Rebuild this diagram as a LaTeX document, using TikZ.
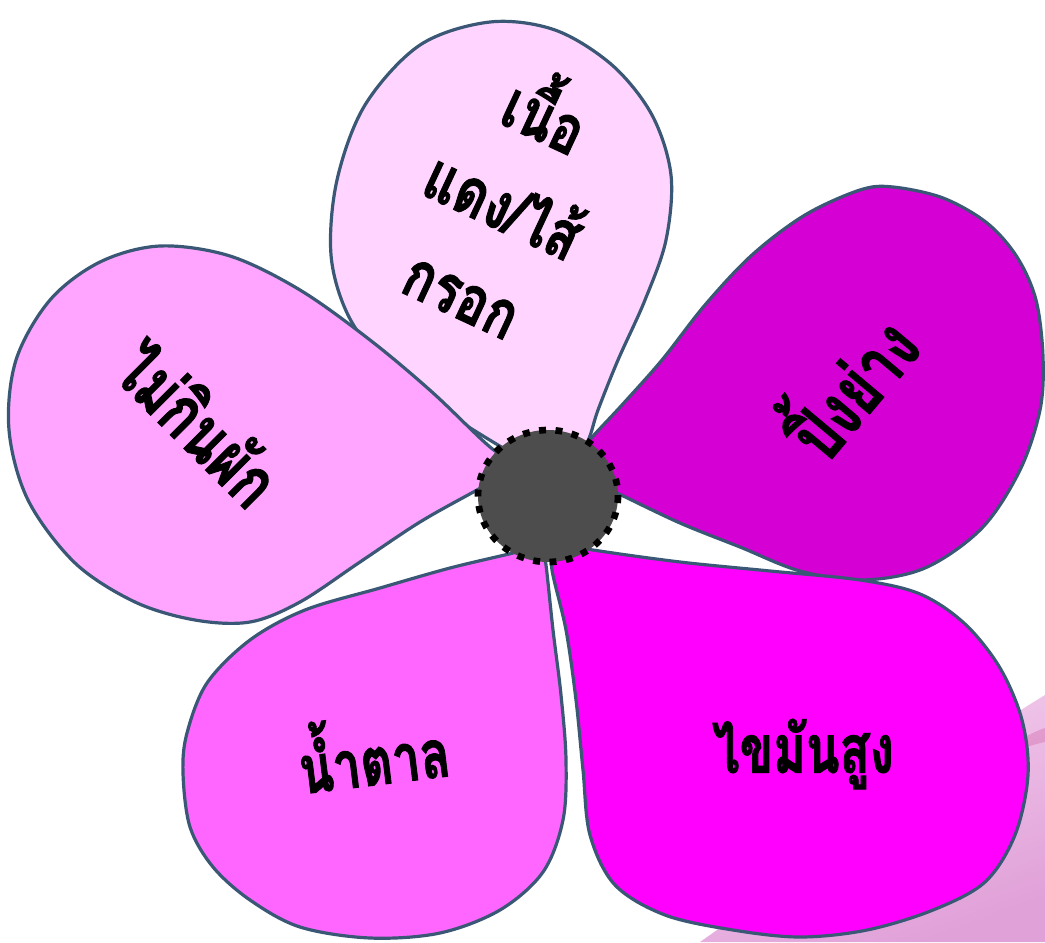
\documentclass[tikz,border=0pt]{standalone}
\usepackage{fontspec}
\newfontfamily\thaifont[Script=Thai, BoldFeatures={FakeBold=1.6}]{Loma}
\definecolor{pA}{HTML}{FFD5FF}
\definecolor{pB}{HTML}{D400D4}
\definecolor{pC}{HTML}{FF00FF}
\definecolor{pD}{HTML}{FF66FF}
\definecolor{pE}{HTML}{FFA5FF}
\definecolor{edgeblue}{HTML}{3A5876}
\definecolor{hub}{HTML}{4D4D4D}
\definecolor{bgpinkA}{HTML}{F4D0EE}
\definecolor{bgpinkB}{HTML}{E0A0D8}
\tikzset{
  petal/.style={draw=edgeblue, line width=2.4pt, line join=round},
  lbl/.style={font=\thaifont\bfseries\fontsize{50}{73}\selectfont, text=black, inner sep=0pt, align=center},
}
\begin{document}
\begin{tikzpicture}[x=0.75pt,y=-0.75pt]
\useasboundingbox (0,0) rectangle (1045,942);
% background decoration (bottom-right)
\shade[top color=bgpinkA, bottom color=bgpinkB, shading angle=20]
  (1045,695) .. controls (930,765) and (810,865) .. (700,942) -- (1045,942) -- cycle;
\fill[bgpinkB!80!purple, opacity=0.55] (1045,728) .. controls (1030,733) and (1010,745) .. (995,755) -- (995,760) .. controls (1012,752) and (1030,745) .. (1045,742) -- cycle;
% petal 1 (top)
\filldraw[petal, fill=pA] plot[smooth, tension=0.55] coordinates {
 (560,480) (498,445) (440,408) (385,365) (348,315) (331,255) (337,180) (365,105) (420,45) (490,22) (555,30) (612,65) (652,115) (671,175) (666,240) (645,300) (618,360) (598,410) (586,445) (560,480)} -- cycle;
% petal 2 (upper right)
\filldraw[petal, fill=pB] plot[smooth, tension=0.55] coordinates {
 (568,470) (587,443) (622,405) (662,360) (705,305) (752,255) (805,215) (860,190) (893,187) (943,198) (987,223) (1017,257) (1036,300) (1043,357) (1040,410) (1020,470) (982,528) (925,568) (862,580) (800,571) (740,547) (680,523) (617,493) (568,470)} -- cycle;
% petal 3 (lower right)
\filldraw[petal, fill=pC] plot[smooth, tension=0.55] coordinates {
 (552,542) (593,550) (680,562) (770,571) (860,580) (920,594) (965,624) (1000,668) (1022,720) (1028,775) (1015,835) (985,882) (933,910) (867,930) (800,937) (733,930) (665,915) (615,885) (590,835) (583,770) (576,700) (566,630) (552,570) (552,542)} -- cycle;
% petal 4 (lower left)
\filldraw[petal, fill=pD] plot[smooth, tension=0.55] coordinates {
 (542,545) (513,553) (450,568) (380,588) (305,610) (250,640) (207,683) (187,733) (183,773) (190,827) (213,867) (250,900) (300,927) (370,938) (440,933) (500,910) (543,872) (563,820) (566,760) (561,695) (553,630) (546,565) (542,545)} -- cycle;
% petal 5 (left)
\filldraw[petal, fill=pE] plot[smooth, tension=0.55] coordinates {
 (520,466) (477,490) (420,522) (360,562) (300,602) (250,622) (195,620) (135,602) (75,563) (28,500) (9,430) (16,360) (50,300) (100,262) (160,246) (230,256) (300,290) (370,340) (432,392) (490,447) (520,466)} -- cycle;
% hub
\fill[hub] (548,496) ellipse[x radius=70, y radius=66];
\draw[black, line width=5pt, dash pattern=on 5.2pt off 7.1pt] (548,496) ellipse[x radius=70, y radius=66];
% labels
\node[lbl, rotate=-25, xscale=0.76] (t1) at (508,196) {เนื้อ\\แดง/ไส้\\กรอก};
\node[lbl, rotate=50, scale=1.12, xscale=0.74] (t2) at (845,382) {ปิ้งย่าง};
\node[lbl, rotate=-45, scale=1.08, xscale=0.74] (t3) at (199,422) {ไม่กินผัก};
\node[lbl, rotate=7, xscale=0.74] (t4) at (373,750) {น้ำตาล};
\node[lbl, xscale=0.74] (t5) at (803,754) {ไขมันสูง};
\end{tikzpicture}
\end{document}
